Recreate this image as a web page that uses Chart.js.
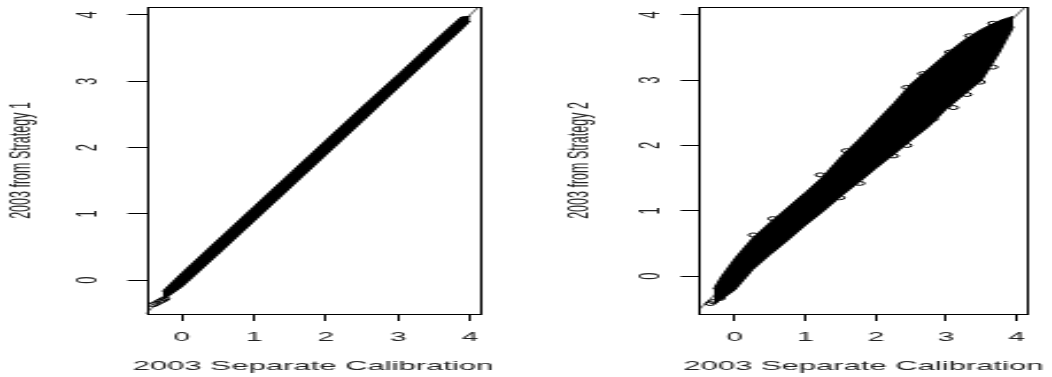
<!DOCTYPE html>
<html>
<head>
<meta charset="utf-8">
<script src="https://cdn.jsdelivr.net/npm/chart.js@4/dist/chart.umd.min.js"></script>
<style>
  html, body { margin: 0; padding: 0; background: #fff; }
  #wrap { position: relative; width: 1052px; height: 377px; overflow: hidden; background: #fff; }
</style>
</head>
<body>
<div id="wrap">
  <canvas id="c1" width="229" height="377" style="position:absolute;top:0;left:0;width:526px;height:377px"></canvas>
  <canvas id="c2" width="229" height="377" style="position:absolute;top:0;left:526px;width:526px;height:377px"></canvas>
</div>
<script>
// ---- data ----
const xTicks = [0, 1, 2, 3, 4];
const yTicks = [0, 1, 2, 3, 4];
const xTitle = '2003 Separate Calibration';
const leftYTitle = '2003 from Strategy 1';
const rightYTitle = '2003 from Strategy 2';

// reference line y = x
const diagX = [-0.7, 4.3];
const diagY = [-0.7, 4.3];

// left panel: dense band of points (upper / lower envelope of the point cloud)
const leftBandX     = [-0.27, 0.00, 0.50, 1.00, 1.50, 2.00, 2.50, 3.00, 3.50, 3.88, 4.00];
const leftBandUpper = [-0.17, 0.11, 0.61, 1.11, 1.61, 2.11, 2.61, 3.10, 3.60, 3.97, 3.98];
const leftBandLower = [-0.30, -0.10, 0.39, 0.89, 1.39, 1.89, 2.39, 2.90, 3.40, 3.78, 3.91];
// left panel: isolated points at the low end
const leftPtsX = [-0.40, -0.36, -0.31, -0.27, -0.24];
const leftPtsY = [-0.37, -0.35, -0.32, -0.30, -0.28];

// right panel: band of points (upper / lower envelope of the point cloud)
const rightBandX     = [-0.30, -0.20, 0.00, 0.25, 0.50, 0.75, 1.00, 1.25, 1.50, 1.75, 2.00, 2.25, 2.50, 2.75, 3.00, 3.25, 3.50, 3.75, 3.95];
const rightBandUpper = [-0.20, -0.02, 0.27, 0.58, 0.82, 1.05, 1.28, 1.52, 1.82, 2.08, 2.36, 2.64, 2.94, 3.17, 3.40, 3.61, 3.78, 3.91, 3.98];
const rightBandLower = [-0.42, -0.36, -0.21, 0.10, 0.33, 0.55, 0.78, 0.99, 1.22, 1.43, 1.65, 1.86, 2.08, 2.29, 2.56, 2.78, 3.00, 3.42, 3.82];
// right panel: scattered points on the edges of the cloud
const rightPtsX = [-0.35, -0.31, -0.21, 0.26, 0.54, 1.21, 1.58, 2.44, 2.67, 3.05, 3.33, 3.66, 1.49, 1.77, 2.25, 2.44, 2.81, 3.10, 3.29, 3.48, 3.66];
const rightPtsY = [-0.42, -0.39, -0.34, 0.63, 0.88, 1.55, 1.92, 2.89, 3.10, 3.43, 3.68, 3.87, 1.20, 1.42, 1.84, 2.00, 2.40, 2.58, 2.78, 2.97, 3.20];

// ---- helpers ----
const S = 526 / 229; // horizontal stretch of the canvas
const FONT = 'Liberation Sans, Arial, sans-serif';
const pts = (xs, ys) => xs.map((x, i) => ({ x: x, y: ys[i] }));

const framePlugin = {
  id: 'frame',
  afterDatasetsDraw(chart) {
    const { ctx, chartArea: a } = chart;
    ctx.save();
    ctx.strokeStyle = '#000';
    ctx.lineWidth = 1;
    ctx.strokeRect(Math.round(a.left) + 0.5, Math.round(a.top) + 0.5,
                   Math.round(a.right - a.left), Math.round(a.bottom - a.top));
    ctx.restore();
  },
  afterDraw(chart, args, opts) {
    const { ctx, chartArea: a } = chart;
    const ys = chart.scales.y;
    ctx.save();
    ctx.fillStyle = '#222';
    ctx.font = '13px ' + FONT;
    ctx.textAlign = 'center';
    ctx.textBaseline = 'middle';
    ys.ticks.forEach(t => {
      const py = ys.getPixelForValue(t.value);
      ctx.save();
      ctx.translate(a.left - opts.yLabelOffset, py);
      ctx.rotate(-Math.PI / 2);
      ctx.fillText(String(t.value), 0, 0);
      ctx.restore();
    });
    ctx.font = '13.5px ' + FONT;
    ctx.fillText(xTitle, (a.left + a.right) / 2, 366.5);
    ctx.restore();
  }
};

function makeChart(id, c) {
  return new Chart(document.getElementById(id), {
    type: 'scatter',
    data: {
      datasets: [
        { type: 'line', data: pts(c.bandX, c.bandUpper), borderColor: '#000', borderWidth: 1,
          backgroundColor: '#000', pointRadius: 0, fill: false, tension: 0 },
        { type: 'line', data: pts(c.bandX, c.bandLower), borderColor: '#000', borderWidth: 1,
          backgroundColor: '#000', pointRadius: 0, fill: '-1', tension: 0 },
        { type: 'scatter', data: pts(c.ptsX, c.ptsY), borderColor: '#000', borderWidth: 1,
          backgroundColor: 'rgba(0,0,0,0)', pointRadius: 2, pointStyle: 'circle' },
        { type: 'line', data: pts(diagX, diagY), borderColor: '#000', borderWidth: 0.6,
          pointRadius: 0, fill: false }
      ]
    },
    options: {
      responsive: false,
      animation: false,
      devicePixelRatio: 1,
      events: [],
      layout: { padding: c.padding },
      plugins: {
        legend: { display: false },
        tooltip: { enabled: false },
        frame: { yLabelOffset: c.yLabelOffset }
      },
      scales: {
        x: {
          type: 'linear', position: 'bottom', min: c.xMin, max: c.xMax,
          afterBuildTicks: s => { s.ticks = xTicks.map(v => ({ value: v })); },
          afterFit: s => { s.height = 63; },
          ticks: { font: { family: FONT, size: 13 }, color: '#222', padding: 9,
                   autoSkip: false, maxRotation: 0, minRotation: 0 },
          grid: { drawOnChartArea: false, drawTicks: true, tickLength: 7, color: '#000', lineWidth: 1 },
          border: { display: false }
        },
        y: {
          type: 'linear', position: 'left', min: c.yMin, max: c.yMax,
          afterBuildTicks: s => { s.ticks = yTicks.map(v => ({ value: v })); },
          afterFit: s => { s.width = c.yWidth; },
          ticks: { display: false },
          grid: { drawOnChartArea: false, drawTicks: true, tickLength: 8, color: '#000', lineWidth: 1 },
          border: { display: false },
          title: { display: true, text: c.yTitle, color: '#222',
                   font: { family: FONT, size: 12.5 }, padding: { top: 2, bottom: 0 } }
        }
      }
    },
    plugins: [framePlugin]
  });
}

makeChart('c1', {
  bandX: leftBandX, bandUpper: leftBandUpper, bandLower: leftBandLower,
  ptsX: leftPtsX, ptsY: leftPtsY, yTitle: leftYTitle,
  xMin: -0.5, xMax: 4.14, yMin: -0.51, yMax: 4.12,
  padding: { left: 0, right: 229 - 480 / S, top: 7, bottom: 0 },
  yWidth: 146 / S, yLabelOffset: 25.4
});
makeChart('c2', {
  bandX: rightBandX, bandUpper: rightBandUpper, bandLower: rightBandLower,
  ptsX: rightPtsX, ptsY: rightPtsY, yTitle: rightYTitle,
  xMin: -0.51, xMax: 4.16, yMin: -0.58, yMax: 4.12,
  padding: { left: 14, right: 229 - 502 / S, top: 7, bottom: 0 },
  yWidth: 173 / S - 14, yLabelOffset: 21
});
</script>
</body>
</html>
